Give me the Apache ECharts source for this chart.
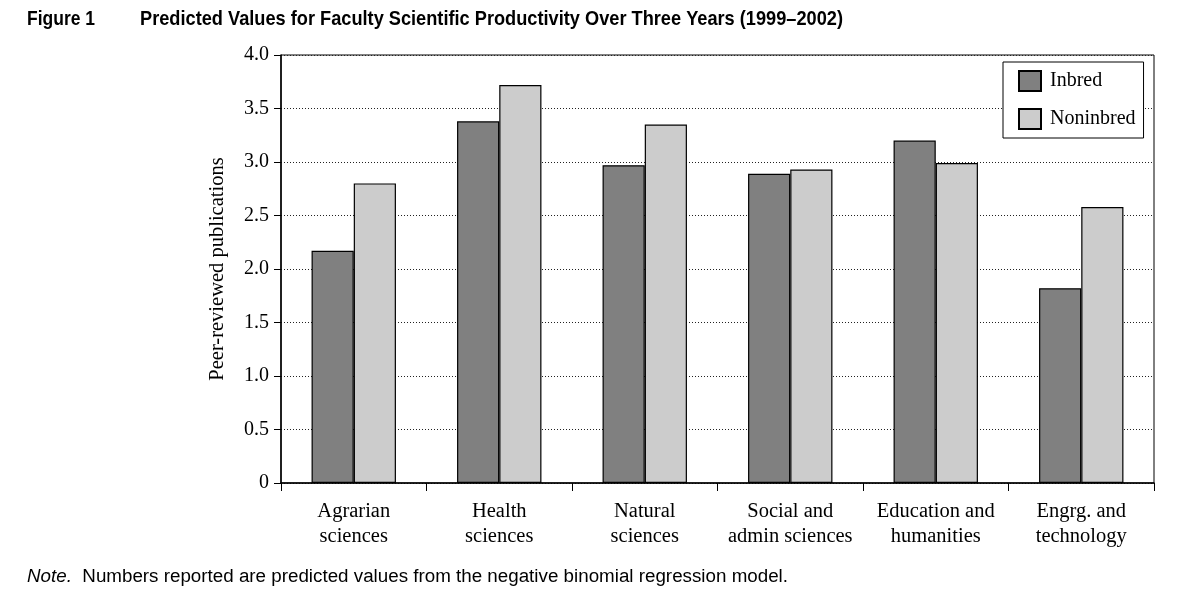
<!DOCTYPE html>
<html>
<head>
<meta charset="utf-8">
<script src="https://cdn.jsdelivr.net/npm/echarts@6/dist/echarts.min.js"></script>
<style>html,body{margin:0;padding:0;background:#fff}#c{width:1200px;height:605px}</style>
</head>
<body>
<div id="c"></div>
<script>
const categories = ['Agrarian\nsciences','Health\nsciences','Natural\nsciences','Social and\nadmin sciences','Education and\nhumanities','Engrg. and\ntechnology'];
const inbred = [2.17, 3.38, 2.97, 2.89, 3.20, 1.82];
const noninbred = [2.80, 3.72, 3.35, 2.93, 2.99, 2.58];
const yTicks = [0, 0.5, 1.0, 1.5, 2.0, 2.5, 3.0, 3.5, 4.0];
const figLabel = 'Figure 1';
const titleText = 'Predicted Values for Faculty Scientific Productivity Over Three Years (1999\u20132002)';
const noteLead = 'Note.';
const noteText = '  Numbers reported are predicted values from the negative binomial regression model.';

const serif = '"Liberation Serif", "Times New Roman", serif';
const sans = '"Liberation Sans", Arial, sans-serif';

const mctx = document.createElement('canvas').getContext('2d');
function textW(t, font) { mctx.font = font; return mctx.measureText(t).width; }

const figFont = 'bold 21px ' + sans;
const noteFontI = 'italic 18px ' + sans;
const noteFont = '18px ' + sans;
const figScale = 68 / textW(figLabel, figFont);
const titleScale = 703 / textW(titleText, figFont);
const noteScale = 761 / (textW(noteLead, noteFontI) + textW(noteText, noteFont));

const chart = echarts.init(document.getElementById('c'), null, {renderer: 'canvas'});
chart.setOption({
  backgroundColor: '#fff',
  animation: false,
  graphic: [
    {type: 'text', x: 27, y: 19, scaleX: figScale,
     style: {text: figLabel, font: figFont, fill: '#000', verticalAlign: 'middle', align: 'left'}},
    {type: 'text', x: 140, y: 19, scaleX: titleScale,
     style: {text: titleText, font: figFont, fill: '#000', verticalAlign: 'middle', align: 'left'}},
    {type: 'text', x: 27, y: 577, scaleX: noteScale,
     style: {text: '{i|' + noteLead + '}{r|' + noteText + '}', fill: '#000', verticalAlign: 'middle', align: 'left',
       rich: {i: {fontFamily: sans, fontStyle: 'italic', fontSize: 18, fill: '#000'},
              r: {fontFamily: sans, fontSize: 18, fill: '#000'}}}}
  ],
  legend: {
    orient: 'vertical', left: 1003, top: 62,
    data: ['Inbred', 'Noninbred'],
    itemWidth: 22, itemHeight: 20, itemGap: 16,
    padding: [8, 8, 8, 15],
    borderColor: '#000', borderWidth: 1, backgroundColor: '#fff',
    icon: 'rect',
    textStyle: {fontFamily: serif, fontSize: 20, color: '#000', padding: [0, 0, 0, 4]}
  },
  grid: {left: 281, right: 46, top: 55, bottom: 122, show: true, borderColor: '#000', borderWidth: 1, backgroundColor: 'transparent'},
  xAxis: {
    type: 'category', data: categories,
    axisLine: {lineStyle: {color: '#000', width: 1.5}},
    axisTick: {show: true, length: 8, lineStyle: {color: '#000', width: 1}},
    axisLabel: {fontFamily: serif, fontSize: 20.5, color: '#000', lineHeight: 25, margin: 16, interval: 0}
  },
  yAxis: {
    type: 'value', min: 0, max: 4, interval: 0.5,
    name: 'Peer-reviewed publications', nameLocation: 'middle', nameGap: 53,
    nameTextStyle: {fontFamily: serif, fontSize: 20.5, color: '#000'},
    axisLine: {show: true, lineStyle: {color: '#000', width: 1.5}},
    axisTick: {show: true, length: 7, lineStyle: {color: '#000'}},
    axisLabel: {fontFamily: serif, fontSize: 20, color: '#000', margin: 12,
      formatter: v => (v === 0 ? '0' : yTicks.includes(v) ? v.toFixed(1) : '')},
    splitLine: {show: true, lineStyle: {color: '#222', type: [1, 2], width: 1}}
  },
  series: [
    {name: 'Inbred', type: 'bar', data: inbred, barGap: '0%', barCategoryGap: '42%',
     itemStyle: {color: '#808080', borderColor: '#000', borderWidth: 1.2}},
    {name: 'Noninbred', type: 'bar', data: noninbred, barGap: '0%', barCategoryGap: '42%',
     itemStyle: {color: '#cccccc', borderColor: '#000', borderWidth: 1.2}}
  ]
});
</script>
</body>
</html>
